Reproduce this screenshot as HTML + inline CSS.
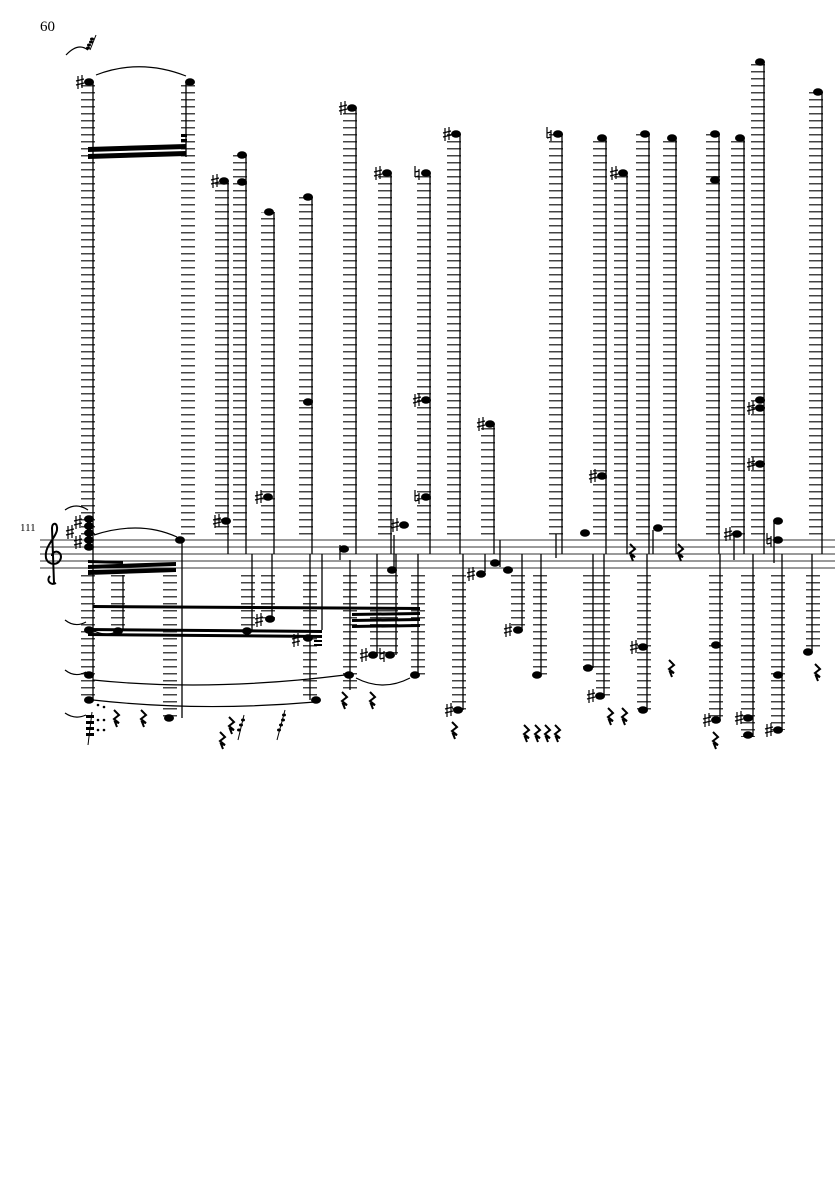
<!DOCTYPE html>
<html><head><meta charset="utf-8"><style>
html,body{margin:0;padding:0;background:#fff;}
svg{display:block;}
</style></head><body>
<svg width="835" height="1181" viewBox="0 0 835 1181" xmlns="http://www.w3.org/2000/svg">
<defs>
<pattern id="ld" x="0" y="1" width="20" height="7" patternUnits="userSpaceOnUse">
<rect x="0" y="0" width="20" height="1.5" fill="#444"/>
</pattern>
<g id="rest"><path d="M-2,-8 L3,-3 L-2,1 L3,5 L-1,4 L1,9" fill="none" stroke="#000" stroke-width="2"/></g>
<g id="sh"><path d="M-2,-6 V7 M2,-7 V6 M-4,-1 L4,-3 M-4,3 L4,1" stroke="#000" stroke-width="1.2" fill="none"/></g>
<g id="na"><path d="M-2,-7 V4 M2,-4 V7 M-2,4 L2,3 M-2,-1 L2,-2" stroke="#000" stroke-width="1.2" fill="none"/></g>
</defs>
<text x="40" y="31" font-family="Liberation Serif, serif" font-size="15">60</text>
<text x="20" y="531" font-family="Liberation Serif, serif" font-size="11">111</text>

<g stroke="#333" stroke-width="1">
<line x1="40" y1="540" x2="835" y2="540"/><line x1="40" y1="547" x2="835" y2="547"/>
<line x1="40" y1="554" x2="835" y2="554"/><line x1="40" y1="561" x2="835" y2="561"/>
<line x1="40" y1="568" x2="835" y2="568"/>
</g>
<path d="M56,583 C50,586 46,580 50,576 M54,583 L52,528 C52,522 58,522 57,530 C56,538 44,546 46,558 C48,566 60,566 61,557 C61,550 52,550 52,556" fill="none" stroke="#000" stroke-width="2"/>

<g fill="url(#ld)">
<rect x="81" y="82" width="14" height="458"/>
<rect x="181" y="82" width="14" height="458"/>
<rect x="215" y="181" width="14" height="359"/>
<rect x="233" y="155" width="14" height="385"/>
<rect x="261" y="212" width="14" height="328"/>
<rect x="299" y="197" width="14" height="343"/>
<rect x="343" y="108" width="14" height="432"/>
<rect x="378" y="173" width="14" height="367"/>
<rect x="417" y="173" width="14" height="367"/>
<rect x="447" y="134" width="14" height="406"/>
<rect x="481" y="424" width="14" height="116"/>
<rect x="549" y="134" width="14" height="406"/>
<rect x="593" y="138" width="14" height="402"/>
<rect x="614" y="173" width="14" height="367"/>
<rect x="636" y="134" width="14" height="406"/>
<rect x="663" y="138" width="14" height="402"/>
<rect x="706" y="134" width="14" height="406"/>
<rect x="731" y="138" width="14" height="402"/>
<rect x="751" y="62" width="14" height="478"/>
<rect x="809" y="92" width="14" height="448"/>
</g>
<g fill="url(#ld)">
<rect x="81" y="575" width="14" height="126"/>
<rect x="111" y="575" width="14" height="56"/>
<rect x="163" y="575" width="14" height="142"/>
<rect x="241" y="575" width="14" height="56"/>
<rect x="261" y="575" width="14" height="44"/>
<rect x="303" y="575" width="14" height="126"/>
<rect x="343" y="575" width="14" height="116"/>
<rect x="370" y="575" width="14" height="80"/>
<rect x="384" y="575" width="14" height="80"/>
<rect x="411" y="575" width="14" height="100"/>
<rect x="452" y="575" width="14" height="135"/>
<rect x="511" y="575" width="14" height="55"/>
<rect x="533" y="575" width="14" height="100"/>
<rect x="583" y="575" width="14" height="93"/>
<rect x="596" y="575" width="14" height="121"/>
<rect x="637" y="575" width="14" height="135"/>
<rect x="709" y="575" width="14" height="145"/>
<rect x="741" y="575" width="14" height="162"/>
<rect x="771" y="575" width="14" height="155"/>
<rect x="806" y="575" width="14" height="77"/>
</g>

<g stroke="#000" stroke-width="1.3">
<line x1="93" y1="82" x2="93" y2="700"/>
<line x1="186" y1="82" x2="186" y2="157"/>
<line x1="182" y1="540" x2="182" y2="718"/>
<line x1="228" y1="181" x2="228" y2="554"/>
<line x1="246" y1="155" x2="246" y2="554"/>
<line x1="274" y1="212" x2="274" y2="554"/>
<line x1="312" y1="197" x2="312" y2="554"/>
<line x1="356" y1="108" x2="356" y2="554"/>
<line x1="391" y1="173" x2="391" y2="554"/>
<line x1="430" y1="173" x2="430" y2="554"/>
<line x1="460" y1="134" x2="460" y2="554"/>
<line x1="494" y1="424" x2="494" y2="554"/>
<line x1="562" y1="134" x2="562" y2="554"/>
<line x1="606" y1="138" x2="606" y2="554"/>
<line x1="627" y1="173" x2="627" y2="554"/>
<line x1="649" y1="134" x2="649" y2="554"/>
<line x1="676" y1="138" x2="676" y2="554"/>
<line x1="719" y1="134" x2="719" y2="554"/>
<line x1="744" y1="138" x2="744" y2="554"/>
<line x1="764" y1="62" x2="764" y2="554"/>
<line x1="822" y1="92" x2="822" y2="554"/>
<line x1="123" y1="575" x2="123" y2="630"/>
<line x1="252" y1="554" x2="252" y2="630"/>
<line x1="272" y1="554" x2="272" y2="618"/>
<line x1="310" y1="554" x2="310" y2="700"/>
<line x1="322" y1="554" x2="322" y2="630"/>
<line x1="350" y1="560" x2="350" y2="690"/>
<line x1="377" y1="554" x2="377" y2="655"/>
<line x1="396" y1="554" x2="396" y2="655"/>
<line x1="418" y1="554" x2="418" y2="675"/>
<line x1="463" y1="554" x2="463" y2="710"/>
<line x1="485" y1="554" x2="485" y2="572"/>
<line x1="500" y1="540" x2="500" y2="567"/>
<line x1="522" y1="554" x2="522" y2="630"/>
<line x1="541" y1="554" x2="541" y2="675"/>
<line x1="593" y1="554" x2="593" y2="668"/>
<line x1="604" y1="554" x2="604" y2="696"/>
<line x1="647" y1="554" x2="647" y2="710"/>
<line x1="720" y1="554" x2="720" y2="720"/>
<line x1="753" y1="554" x2="753" y2="737"/>
<line x1="782" y1="554" x2="782" y2="730"/>
<line x1="812" y1="554" x2="812" y2="652"/>
<line x1="556" y1="534" x2="556" y2="558"/>
<line x1="653" y1="530" x2="653" y2="554"/>
<line x1="734" y1="535" x2="734" y2="560"/>
<line x1="774" y1="522" x2="774" y2="563"/>
<line x1="340" y1="545" x2="340" y2="560"/>
<line x1="394" y1="535" x2="394" y2="570"/>
</g>

<g fill="#000">
<polygon points="88,147 186,144 186,149 88,152"/>
<polygon points="88,154 186,151 186,156 88,159"/>
<rect x="181" y="134" width="6" height="3"/><rect x="181" y="139" width="6" height="3"/>
<polygon points="88,560 123,561 123,564 88,563"/>
<polygon points="88,565 176,562 176,566 88,569"/>
<polygon points="88,570 176,568 176,572 88,575"/>
<polygon points="93,605 420,607 420,610 93,608"/>
<polygon points="88,628 322,630 322,633 88,631"/>
<polygon points="88,633 322,635 322,638 88,636"/>
<polygon points="352,613 420,612 420,615 352,616"/>
<polygon points="352,619 420,618 420,621 352,622"/>
<polygon points="352,625 420,624 420,627 352,628"/>
<rect x="314" y="640" width="8" height="2"/><rect x="314" y="644" width="8" height="2"/>
</g>

<g fill="#000">
<ellipse cx="89" cy="82" rx="5" ry="3.8"/><ellipse cx="190" cy="82" rx="5" ry="3.8"/>
<ellipse cx="224" cy="181" rx="5" ry="3.8"/><ellipse cx="242" cy="155" rx="5" ry="3.8"/><ellipse cx="242" cy="182" rx="5" ry="3.8"/>
<ellipse cx="269" cy="212" rx="5" ry="3.8"/><ellipse cx="308" cy="197" rx="5" ry="3.8"/><ellipse cx="308" cy="402" rx="5" ry="3.8"/>
<ellipse cx="352" cy="108" rx="5" ry="3.8"/><ellipse cx="387" cy="173" rx="5" ry="3.8"/><ellipse cx="426" cy="173" rx="5" ry="3.8"/>
<ellipse cx="426" cy="400" rx="5" ry="3.8"/><ellipse cx="426" cy="497" rx="5" ry="3.8"/>
<ellipse cx="456" cy="134" rx="5" ry="3.8"/><ellipse cx="490" cy="424" rx="5" ry="3.8"/>
<ellipse cx="558" cy="134" rx="5" ry="3.8"/><ellipse cx="602" cy="138" rx="5" ry="3.8"/><ellipse cx="623" cy="173" rx="5" ry="3.8"/>
<ellipse cx="645" cy="134" rx="5" ry="3.8"/><ellipse cx="672" cy="138" rx="5" ry="3.8"/><ellipse cx="715" cy="134" rx="5" ry="3.8"/><ellipse cx="715" cy="180" rx="5" ry="3.8"/>
<ellipse cx="740" cy="138" rx="5" ry="3.8"/><ellipse cx="760" cy="62" rx="5" ry="3.8"/><ellipse cx="760" cy="400" rx="5" ry="3.8"/><ellipse cx="760" cy="408" rx="5" ry="3.8"/><ellipse cx="760" cy="464" rx="5" ry="3.8"/>
<ellipse cx="818" cy="92" rx="5" ry="3.8"/>
<ellipse cx="226" cy="521" rx="5" ry="3.8"/><ellipse cx="268" cy="497" rx="5" ry="3.8"/><ellipse cx="404" cy="525" rx="5" ry="3.8"/>
<ellipse cx="602" cy="476" rx="5" ry="3.8"/>
<ellipse cx="89" cy="519" rx="5" ry="3.8"/><ellipse cx="89" cy="526" rx="5" ry="3.8"/><ellipse cx="89" cy="533" rx="5" ry="3.8"/><ellipse cx="89" cy="540" rx="5" ry="3.8"/><ellipse cx="89" cy="547" rx="5" ry="3.8"/>
<ellipse cx="180" cy="540" rx="5" ry="3.8"/>
<ellipse cx="344" cy="549" rx="5" ry="3.8"/><ellipse cx="392" cy="570" rx="5" ry="3.8"/>
<ellipse cx="481" cy="574" rx="5" ry="3.8"/><ellipse cx="495" cy="563" rx="5" ry="3.8"/><ellipse cx="508" cy="570" rx="5" ry="3.8"/>
<ellipse cx="585" cy="533" rx="5" ry="3.8"/><ellipse cx="658" cy="528" rx="5" ry="3.8"/><ellipse cx="737" cy="534" rx="5" ry="3.8"/>
<ellipse cx="778" cy="521" rx="5" ry="3.8"/><ellipse cx="778" cy="540" rx="5" ry="3.8"/>
<ellipse cx="89" cy="630" rx="5" ry="3.8"/><ellipse cx="89" cy="675" rx="5" ry="3.8"/><ellipse cx="89" cy="700" rx="5" ry="3.8"/>
<ellipse cx="118" cy="631" rx="5" ry="3.8"/><ellipse cx="169" cy="718" rx="5" ry="3.8"/>
<ellipse cx="247" cy="631" rx="5" ry="3.8"/><ellipse cx="270" cy="619" rx="5" ry="3.8"/><ellipse cx="308" cy="638" rx="5" ry="3.8"/><ellipse cx="316" cy="700" rx="5" ry="3.8"/>
<ellipse cx="349" cy="675" rx="5" ry="3.8"/><ellipse cx="373" cy="655" rx="5" ry="3.8"/><ellipse cx="390" cy="655" rx="5" ry="3.8"/><ellipse cx="415" cy="675" rx="5" ry="3.8"/>
<ellipse cx="458" cy="710" rx="5" ry="3.8"/><ellipse cx="518" cy="630" rx="5" ry="3.8"/><ellipse cx="537" cy="675" rx="5" ry="3.8"/>
<ellipse cx="588" cy="668" rx="5" ry="3.8"/><ellipse cx="600" cy="696" rx="5" ry="3.8"/><ellipse cx="643" cy="710" rx="5" ry="3.8"/><ellipse cx="643" cy="647" rx="5" ry="3.8"/>
<ellipse cx="716" cy="645" rx="5" ry="3.8"/><ellipse cx="716" cy="720" rx="5" ry="3.8"/>
<ellipse cx="748" cy="718" rx="5" ry="3.8"/><ellipse cx="748" cy="735" rx="5" ry="3.8"/>
<ellipse cx="778" cy="675" rx="5" ry="3.8"/><ellipse cx="778" cy="730" rx="5" ry="3.8"/><ellipse cx="808" cy="652" rx="5" ry="3.8"/>
</g>

<use href="#sh" x="80" y="82"/><use href="#sh" x="215" y="181"/><use href="#sh" x="343" y="108"/><use href="#sh" x="378" y="173"/>
<use href="#na" x="417" y="173"/><use href="#sh" x="447" y="134"/><use href="#na" x="549" y="134"/><use href="#sh" x="614" y="173"/>
<use href="#sh" x="481" y="424"/><use href="#sh" x="417" y="400"/><use href="#na" x="417" y="497"/>
<use href="#sh" x="751" y="408"/><use href="#sh" x="751" y="464"/><use href="#sh" x="593" y="476"/>
<use href="#sh" x="217" y="521"/><use href="#sh" x="259" y="497"/><use href="#sh" x="395" y="525"/>
<use href="#sh" x="78" y="522"/><use href="#sh" x="70" y="532"/><use href="#sh" x="78" y="542"/>
<use href="#sh" x="471" y="574"/><use href="#sh" x="728" y="534"/><use href="#na" x="769" y="540"/>
<use href="#sh" x="259" y="620"/><use href="#sh" x="296" y="640"/><use href="#sh" x="364" y="655"/><use href="#na" x="382" y="655"/>
<use href="#sh" x="449" y="710"/><use href="#sh" x="508" y="630"/><use href="#sh" x="591" y="696"/><use href="#sh" x="634" y="647"/>
<use href="#sh" x="707" y="720"/><use href="#sh" x="739" y="718"/><use href="#sh" x="769" y="730"/>

<use href="#rest" x="116" y="718"/><use href="#rest" x="143" y="718"/><use href="#rest" x="222" y="740"/><use href="#rest" x="231" y="725"/>
<use href="#rest" x="344" y="700"/><use href="#rest" x="372" y="700"/><use href="#rest" x="454" y="730"/>
<use href="#rest" x="526" y="733"/><use href="#rest" x="537" y="733"/><use href="#rest" x="547" y="733"/><use href="#rest" x="557" y="733"/>
<use href="#rest" x="610" y="716"/><use href="#rest" x="624" y="716"/><use href="#rest" x="632" y="552"/><use href="#rest" x="680" y="552"/>
<use href="#rest" x="671" y="668"/><use href="#rest" x="715" y="740"/><use href="#rest" x="817" y="672"/>

<g fill="none" stroke="#000" stroke-width="1.2">
<path d="M96,75 Q140,58 186,76"/>
<path d="M66,55 Q78,42 88,50"/>
<path d="M94,535 Q140,520 177,537"/>
<path d="M65,510 Q76,502 88,510"/>
<path d="M65,620 Q75,628 86,622"/>
<path d="M65,670 Q75,678 86,672"/>
<path d="M65,713 Q75,720 86,715"/>
<path d="M92,630 Q105,637 116,632"/>
<path d="M93,680 Q210,692 345,675"/>
<path d="M93,700 Q200,712 315,702"/>
<path d="M356,678 Q383,692 410,678"/>
</g>
<g fill="#000">
<ellipse cx="88" cy="48" rx="2" ry="1.5"/><ellipse cx="89" cy="45" rx="2" ry="1.5"/><ellipse cx="91" cy="42" rx="2" ry="1.5"/><ellipse cx="92" cy="39" rx="2" ry="1.5"/>
<ellipse cx="239" cy="730" rx="2" ry="1.5"/><ellipse cx="241" cy="725" rx="2" ry="1.5"/><ellipse cx="243" cy="720" rx="2" ry="1.5"/>
<ellipse cx="279" cy="730" rx="2" ry="1.5"/><ellipse cx="281" cy="725" rx="2" ry="1.5"/><ellipse cx="283" cy="720" rx="2" ry="1.5"/><ellipse cx="284" cy="715" rx="2" ry="1.5"/>
<rect x="86" y="715" width="8" height="3"/><rect x="86" y="721" width="8" height="3"/><rect x="86" y="727" width="8" height="3"/><rect x="86" y="733" width="8" height="3"/>
<circle cx="98" cy="705" r="1.3"/><circle cx="104" cy="707" r="1.3"/><circle cx="98" cy="720" r="1.3"/><circle cx="104" cy="720" r="1.3"/><circle cx="98" cy="730" r="1.3"/><circle cx="104" cy="730" r="1.3"/>
</g>
<g stroke="#000" stroke-width="1"><line x1="96" y1="35" x2="90" y2="50"/><line x1="88" y1="745" x2="92" y2="712"/><line x1="238" y1="740" x2="244" y2="715"/><line x1="277" y1="740" x2="285" y2="710"/></g>
</svg>
</body></html>
